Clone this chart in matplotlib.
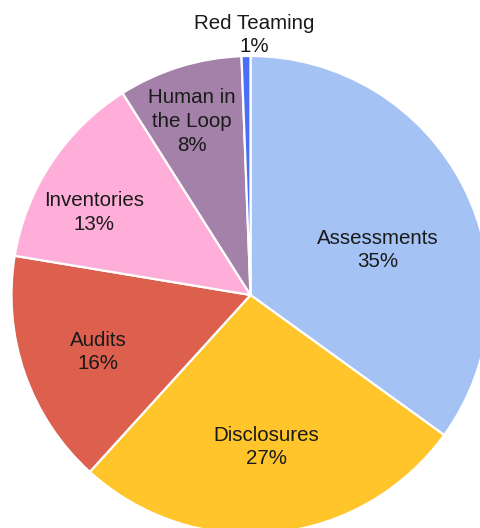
import matplotlib
matplotlib.use("Agg")
import matplotlib.pyplot as plt

categories = ["Assessments", "Disclosures", "Audits", "Inventories", "Human in\nthe Loop", "Red Teaming"]
values = [35.0, 26.8, 15.9, 13.4, 8.4, 0.6]
colors = ["#a4c2f4", "#ffc52b", "#dd5f4e", "#ffadd9", "#a381a8", "#4a6ef5"]

W, H = 481, 528
cx, cy, R = 250.5, 295.0, 239.0

fig = plt.figure(figsize=(W / 100, H / 100), dpi=100)
ax = fig.add_axes([0, 0, 1, 1])
wedges, _ = ax.pie(values, colors=colors, startangle=90, counterclock=False,
                   radius=1.0, center=(0, 0),
                   wedgeprops=dict(edgecolor="white", linewidth=1.6))
ax.set_aspect("auto")
ax.set_xlim(-cx / R, (W - cx) / R)
ax.set_ylim(-(H - cy) / R, cy / R)
ax.axis("off")

total = sum(values)
# label block centers in pixels
label_px = [(378, 250), (266.5, 447), (98, 352), (94.5, 212.5), (192, 121.5), (254, 35)]
for cat, v, (px, py) in zip(categories, values, label_px):
    pct = round(100 * v / total)
    ax.text((px - cx) / R, (cy - py) / R, f"{cat}\n{pct}%", ha="center", va="center",
            fontsize=14.8, family=["Liberation Sans", "DejaVu Sans"], color="#1a1a1a",
            linespacing=1.33)

fig.savefig("out.png", dpi=100)
